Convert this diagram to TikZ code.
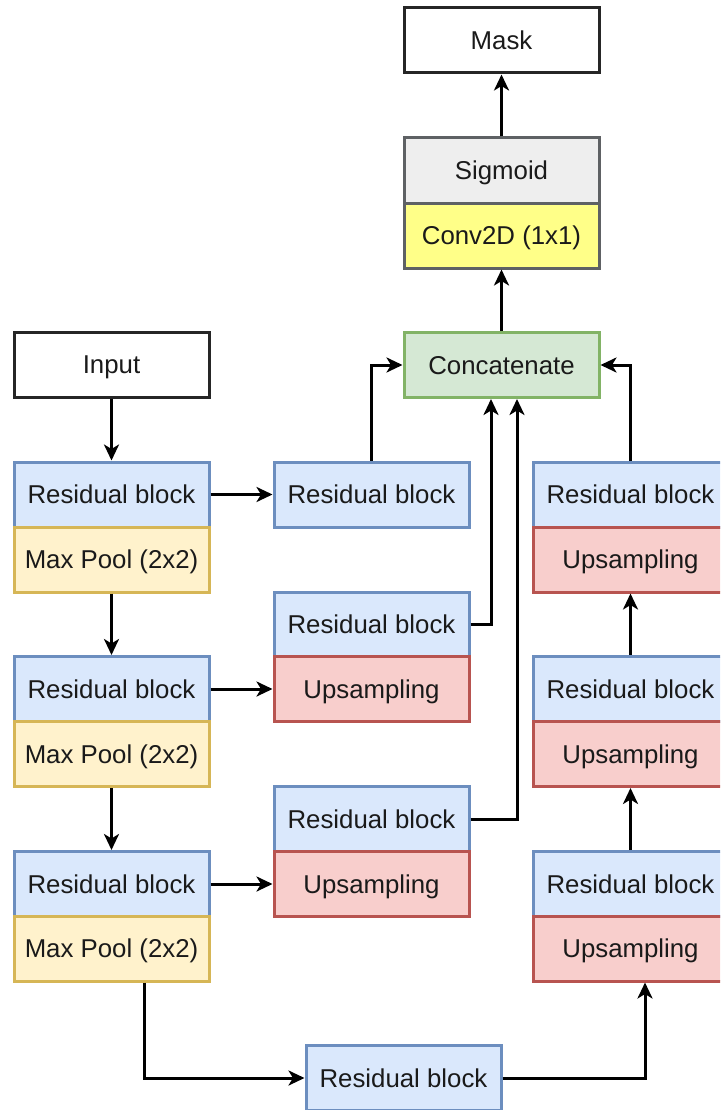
\documentclass[tikz,border=0pt]{standalone}
\usepackage{fontspec}
\setmainfont{Liberation Sans}
\usetikzlibrary{arrows.meta}
\definecolor{bluefill}{HTML}{DAE8FC}\definecolor{bluedraw}{HTML}{6C8EBF}
\definecolor{yelfill}{HTML}{FFF2CC}\definecolor{yeldraw}{HTML}{D6B656}
\definecolor{redfill}{HTML}{F8CECC}\definecolor{reddraw}{HTML}{B85450}
\definecolor{grnfill}{HTML}{D5E8D4}\definecolor{grndraw}{HTML}{82B366}
\definecolor{grayfill}{HTML}{EEEEEE}\definecolor{graydraw}{HTML}{36393D}
\definecolor{convfill}{HTML}{FFFF88}
\definecolor{txt}{HTML}{1A1A1A}
\tikzset{
  blk/.style={rectangle, minimum width=195pt, minimum height=65pt, line width=3pt, inner sep=0pt,
    font=\fontsize{25.8}{30}\selectfont, text=txt, text height=24pt, text depth=5.5pt},
  plain/.style={blk, draw=black!85, fill=white},
  res/.style={blk, draw=bluedraw, fill=bluefill},
  pool/.style={blk, draw=yeldraw, fill=yelfill},
  ups/.style={blk, draw=reddraw, fill=redfill},
  cat/.style={blk, draw=grndraw, fill=grnfill},
  sig/.style={blk, draw=graydraw!80, fill=grayfill},
  conv/.style={blk, draw=graydraw!80, fill=convfill},
  conn/.style={line width=3pt, draw=black, -{Stealth[length=16pt, width=15pt, inset=4.5pt]}},
}
\begin{document}
\begin{tikzpicture}[x=1pt, y=-1pt]
\useasboundingbox (0,0) rectangle (720,1110);
\clip (0,0) rectangle (720,1110);
% top
\node[plain] (mask) at (501.5,40.5) {Mask};
\node[sig] (sig) at (501.5,170.5) {Sigmoid};
\node[conv] (conv) at (501.5,235.5) {Conv2D (1x1)};
\node[cat] (cat) at (501.5,365) {Concatenate};
\node[plain] (input) at (111.5,364.5) {Input};
% left column
\node[res] (l1r) at (111.5,494.5) {Residual block};
\node[pool] (l1m) at (111.5,559.5) {Max Pool (2x2)};
\node[res] (l2r) at (111.5,689) {Residual block};
\node[pool] (l2m) at (111.5,754) {Max Pool (2x2)};
\node[res] (l3r) at (111.5,884) {Residual block};
\node[pool] (l3m) at (111.5,948.5) {Max Pool (2x2)};
% middle column
\node[res] (m1r) at (371.5,494.5) {Residual block};
\node[res] (m2r) at (371.5,624.5) {Residual block};
\node[ups] (m2u) at (371.5,689) {Upsampling};
\node[res] (m3r) at (371.5,819) {Residual block};
\node[ups] (m3u) at (371.5,884) {Upsampling};
% right column
\node[res] (r1r) at (630.5,494.5) {Residual block};
\node[ups] (r1u) at (630.5,559.5) {Upsampling};
\node[res] (r2r) at (630.5,689) {Residual block};
\node[ups] (r2u) at (630.5,754) {Upsampling};
\node[res] (r3r) at (630.5,884) {Residual block};
\node[ups] (r3u) at (630.5,948.5) {Upsampling};
% bottom
\node[res] (bot) at (403.5,1078) {Residual block};
% connectors
\draw[conn] (input) -- (l1r);
\draw[conn] (l1m) -- (l2r);
\draw[conn] (l2m) -- (l3r);
\draw[conn] (l1r) -- (m1r);
\draw[conn] (l2r) -- (m2u);
\draw[conn] (l3r) -- (m3u);
\draw[conn] ([xshift=32.5pt]l3m.south) |- (bot.west);
\draw[conn] (bot.east) -| ([xshift=14.5pt]r3u.south);
\draw[conn] (r3r) -- (r2u);
\draw[conn] (r2r) -- (r1u);
\draw[conn] (r1r.north) |- (cat.east);
\draw[conn] (m1r.north) |- (cat.west);
\draw[conn] (m2r.east) -| ([xshift=-10.5pt]cat.south);
\draw[conn] (m3r.east) -| ([xshift=15.5pt]cat.south);
\draw[conn] (cat) -- (conv);
\draw[conn] (sig) -- (mask);
\end{tikzpicture}
\end{document}
